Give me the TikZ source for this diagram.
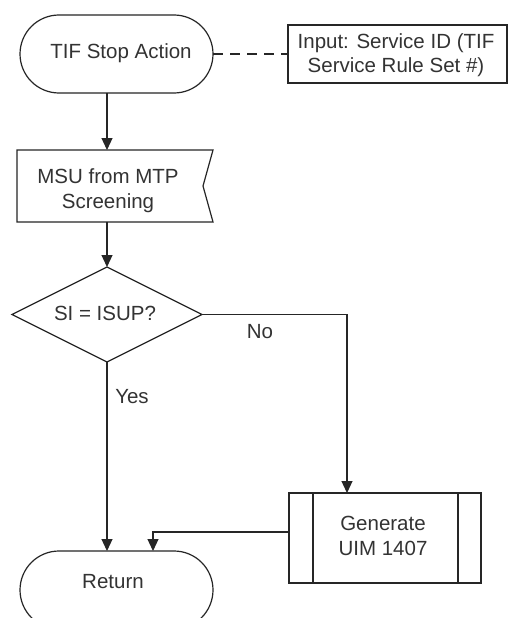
\documentclass[tikz,border=0pt]{standalone}
\usepackage{fontspec}
\setmainfont{Liberation Sans}
\usetikzlibrary{arrows.meta}
\begin{document}
\begin{tikzpicture}[x=1pt,y=-1pt,
  line width=1.2pt,
  ln/.style={draw=black!85},
  arr/.style={ln,-{Triangle[width=11pt,length=12pt]}},
  frame/.style={draw=black!85,inner sep=0pt,outer sep=0pt},
  hidden/.style={inner sep=0pt,outer sep=0pt},
  txt/.style={text=black!80,font=\fontsize{20.5}{24.5}\selectfont,align=center,inner sep=0pt}
]
\clip (0,0) rectangle (508,618);
\fill[white] (0,0) rectangle (508,618);

% shapes
\node[frame,rounded corners=39pt,minimum width=193pt,minimum height=78pt] (start) at (116.5,54) {};
\node[txt] (startT) at (121,53) {TIF Stop Action};

\node[frame,minimum width=219pt,minimum height=58pt] (inp) at (397.5,54) {};
\node[txt] (inpT) at (396,55) {Input: Service ID (TIF\\Service Rule Set \#)};

\node[hidden,minimum width=196pt,minimum height=72pt] (msu) at (115,186) {};
\draw[ln] (msu.north west) -- (msu.north east) -- ([xshift=-10pt]msu.east) -- (msu.south east) -- (msu.south west) -- cycle;
\node[txt] (msuT) at (108,190.5) {MSU from MTP\\Screening};

\node[hidden,minimum width=190pt,minimum height=95pt] (dia) at (107,314.5) {};
\draw[ln] (dia.west) -- (dia.north) -- (dia.east) -- (dia.south) -- cycle;
\node[txt] (diaT) at (105,313) {SI = ISUP?};

\node[frame,minimum width=192pt,minimum height=90pt] (gen) at (385,538) {};
\draw[ln] ([xshift=24pt]gen.north west) -- ([xshift=24pt]gen.south west);
\draw[ln] ([xshift=-23pt]gen.north east) -- ([xshift=-23pt]gen.south east);
\node[txt] (genT) at (383,536) {Generate\\UIM 1407};

\node[frame,rounded corners=39pt,minimum width=193pt,minimum height=78pt] (ret) at (116.5,590) {};
\node[txt] (retT) at (113,582) {Return};

% connectors
\draw[ln,dash pattern=on 10pt off 7pt] (start.east) -- (inp.west);
\draw[arr] (dia.north |- start.south) -- (dia.north |- msu.north);
\draw[arr] (dia.north |- msu.south) -- (dia.north);
\coordinate (nocorner) at (347,314.5);
\draw[arr] (dia.east) -- (nocorner) -- (nocorner |- gen.north);
\draw[arr] (dia.south) -- (dia.south |- ret.north);
\coordinate (rin) at (153,0);
\draw[arr] ([yshift=6pt]gen.west) -| (rin |- ret.north);

% labels
\node[txt] (no) at (260,332) {No};
\node[txt] (yes) at (132,397) {Yes};
\end{tikzpicture}
\end{document}
